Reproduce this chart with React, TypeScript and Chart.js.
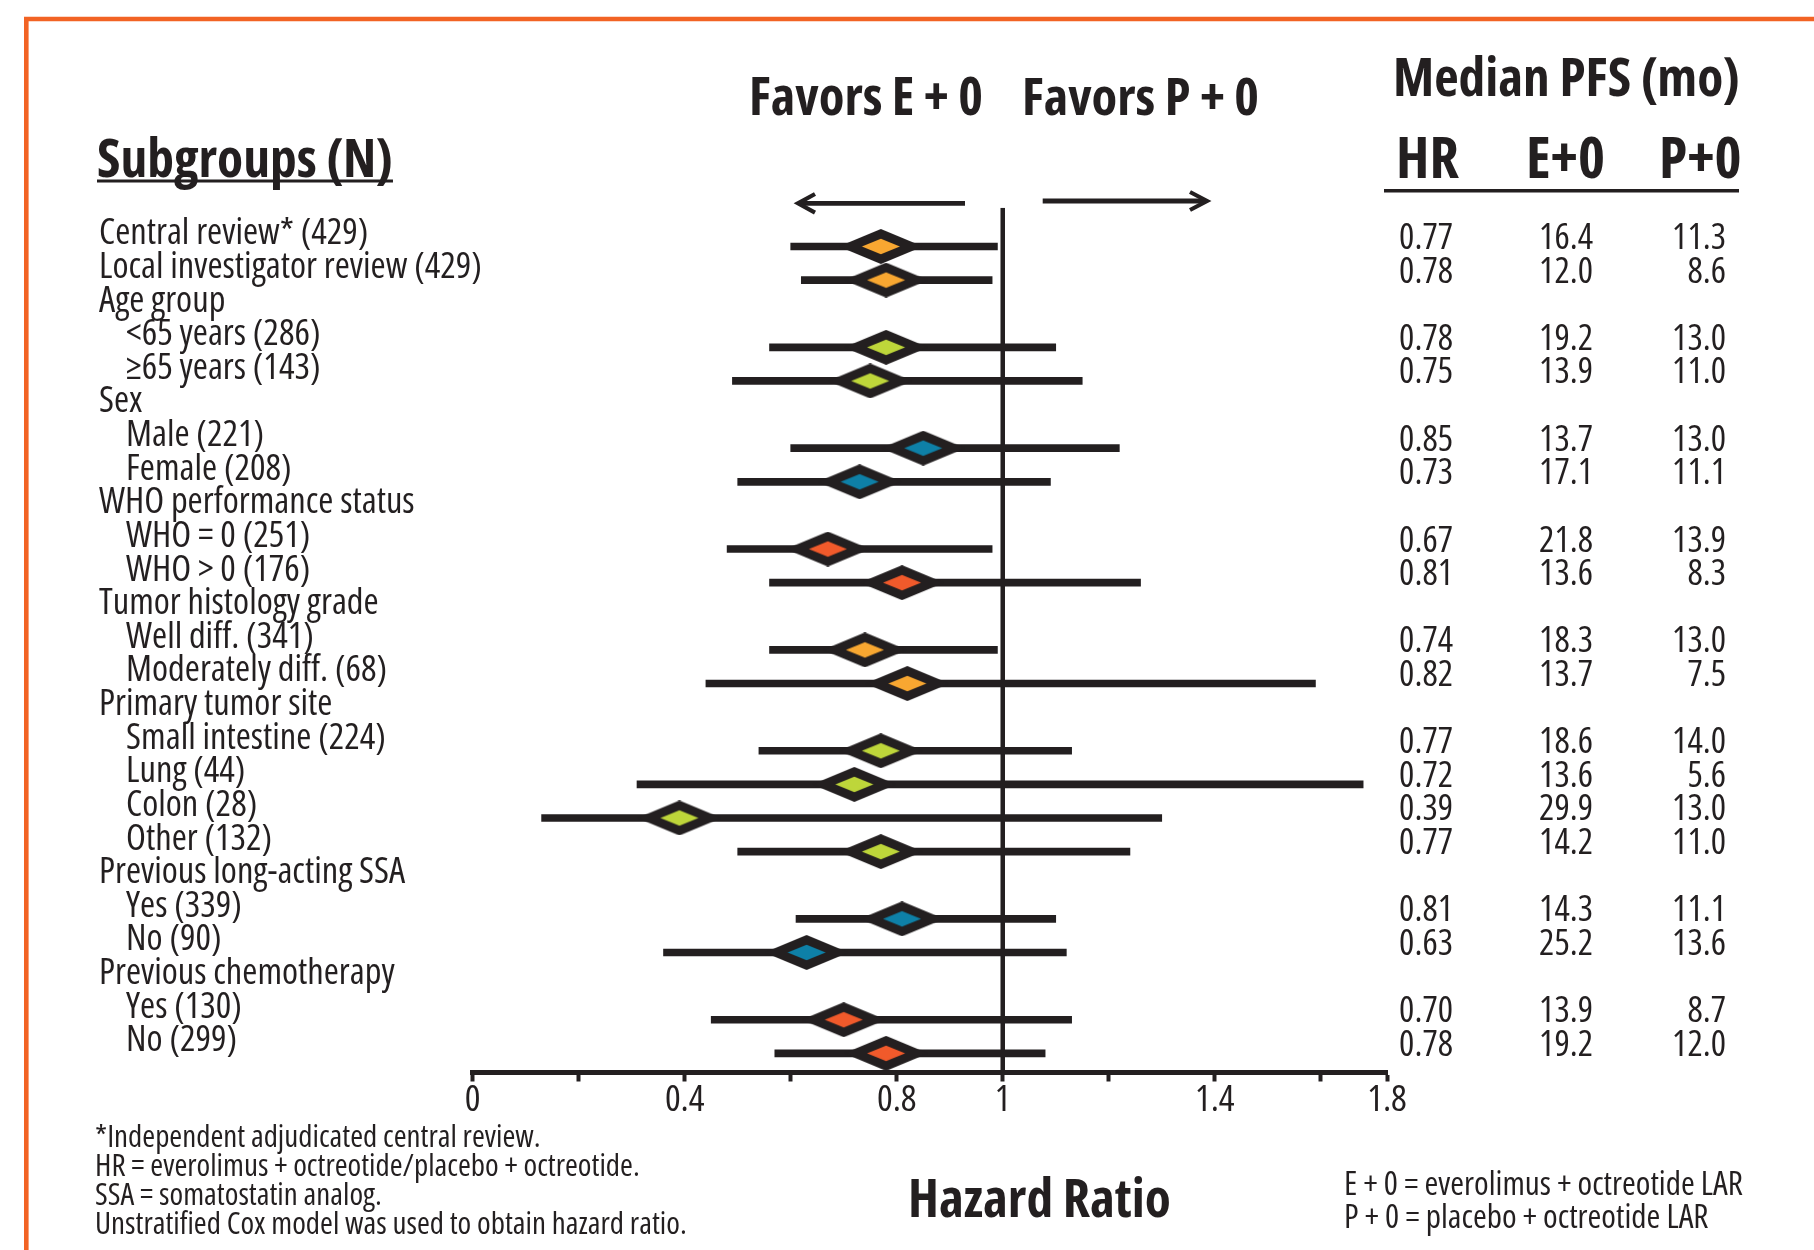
import React, { useEffect, useRef } from 'react';
import { Chart, registerables } from 'chart.js';

Chart.register(...registerables);

// ---------- data ----------
const rowLabels = [
  'Central review* (429)',
  'Local investigator review (429)',
  'Age group',
  '<65 years (286)',
  '≥65 years (143)',
  'Sex',
  'Male (221)',
  'Female (208)',
  'WHO performance status',
  'WHO = 0 (251)',
  'WHO > 0 (176)',
  'Tumor histology grade',
  'Well diff. (341)',
  'Moderately diff. (68)',
  'Primary tumor site',
  'Small intestine (224)',
  'Lung (44)',
  'Colon (28)',
  'Other (132)',
  'Previous long-acting SSA',
  'Yes (339)',
  'No (90)',
  'Previous chemotherapy',
  'Yes (130)',
  'No (299)',
];
const rowIsSubItem = [0, 0, 0, 1, 1, 0, 1, 1, 0, 1, 1, 0, 1, 1, 0, 1, 1, 1, 1, 0, 1, 1, 0, 1, 1];

const subgroupRows = [0, 1, 3, 4, 6, 7, 9, 10, 12, 13, 15, 16, 17, 18, 20, 21, 23, 24];
const hazardRatios = [0.77, 0.78, 0.78, 0.75, 0.85, 0.73, 0.67, 0.81, 0.74, 0.82, 0.77, 0.72, 0.39, 0.77, 0.81, 0.63, 0.7, 0.78];
const hrLabels = ['0.77', '0.78', '0.78', '0.75', '0.85', '0.73', '0.67', '0.81', '0.74', '0.82', '0.77', '0.72', '0.39', '0.77', '0.81', '0.63', '0.70', '0.78'];
const ciLower = [0.6, 0.62, 0.56, 0.49, 0.6, 0.5, 0.48, 0.56, 0.56, 0.44, 0.54, 0.31, 0.13, 0.5, 0.61, 0.36, 0.45, 0.57];
const ciUpper = [0.99, 0.98, 1.1, 1.15, 1.22, 1.09, 0.98, 1.26, 0.99, 1.59, 1.13, 1.68, 1.3, 1.24, 1.1, 1.12, 1.13, 1.08];
const medianPfsE = ['16.4', '12.0', '19.2', '13.9', '13.7', '17.1', '21.8', '13.6', '18.3', '13.7', '18.6', '13.6', '29.9', '14.2', '14.3', '25.2', '13.9', '19.2'];
const medianPfsP = ['11.3', '8.6', '13.0', '11.0', '13.0', '11.1', '13.9', '8.3', '13.0', '7.5', '14.0', '5.6', '13.0', '11.0', '11.1', '13.6', '8.7', '12.0'];
const markerGroup = ['orange', 'orange', 'lime', 'lime', 'blue', 'blue', 'red', 'red', 'orange', 'orange', 'lime', 'lime', 'lime', 'lime', 'blue', 'blue', 'red', 'red'];

const xTickValues = [0, 0.2, 0.4, 0.6, 0.8, 1, 1.2, 1.4, 1.6, 1.725];
const xTickLabels = ['0', '', '0.4', '', '0.8', '1', '', '1.4', '', '1.8'];

const footnotes = [
  '*Independent adjudicated central review.',
  'HR = everolimus + octreotide/placebo + octreotide.',
  'SSA = somatostatin analog.',
  'Unstratified Cox model was used to obtain hazard ratio.',
];
const legendLines = ['E + 0 = everolimus + octreotide LAR', 'P + 0 = placebo + octreotide LAR'];

// ---------- styles ----------
const INK = '#231F20';
const FRAME = '#F26324';
const MARKER_COLORS: Record<string, string> = {
  orange: '#F8A731',
  lime: '#BED63A',
  blue: '#0E80A7',
  red: '#F15A2B',
};
const FAMILY = "'Open Sans', 'Roboto Condensed', sans-serif";
const W = 1814;
const H = 1250;
const Y_MIN = -1.15;
const Y_MAX = 24.57;
const LABEL_LEFT = 99;
const Y_AXIS_WIDTH = 373.7;

function fontStr(weight: string, size: number) {
  return `${weight} condensed ${size}px ${FAMILY}`;
}

function fitSize(ctx: CanvasRenderingContext2D, text: string, weight: string, target: number) {
  const base = 50;
  ctx.font = fontStr(weight, base);
  const w = ctx.measureText(text).width;
  return (base * target) / w;
}

function diamondImage(fill: string): HTMLCanvasElement {
  const c = document.createElement('canvas');
  const w = 84;
  const h = 35;
  c.width = w;
  c.height = h;
  const g = c.getContext('2d')!;
  const cx = w / 2;
  const cy = h / 2;
  g.fillStyle = INK;
  g.beginPath();
  g.moveTo(cx, 0);
  g.lineTo(w, cy);
  g.lineTo(cx, h);
  g.lineTo(0, cy);
  g.closePath();
  g.fill();
  g.fillStyle = fill;
  g.beginPath();
  g.moveTo(cx, cy - 7.8);
  g.lineTo(cx + 19, cy);
  g.lineTo(cx, cy + 7.8);
  g.lineTo(cx - 19, cy);
  g.closePath();
  g.fill();
  return c;
}

const decorPlugin = {
  id: 'decor',
  beforeDraw(chart: any) {
    const ctx = chart.ctx as CanvasRenderingContext2D;
    ctx.save();
    ctx.fillStyle = '#ffffff';
    ctx.fillRect(0, 0, W, H);
    ctx.strokeStyle = FRAME;
    ctx.lineWidth = 4.6;
    ctx.beginPath();
    ctx.moveTo(26.3, H + 10);
    ctx.lineTo(26.3, 19);
    ctx.lineTo(W + 10, 19);
    ctx.stroke();
    ctx.restore();
  },
  afterDraw(chart: any) {
    const ctx = chart.ctx as CanvasRenderingContext2D;
    const yScale = chart.scales.y;
    ctx.save();
    ctx.fillStyle = INK;
    ctx.strokeStyle = INK;
    ctx.textBaseline = 'alphabetic';
    ctx.textAlign = 'left';

    const put = (text: string, weight: string, size: number, x: number, y: number) => {
      ctx.font = fontStr(weight, size);
      ctx.fillText(text, x, y);
      return ctx.measureText(text).width;
    };

    // headers
    const sw = put('Subgroups (N)', 'bold', fitSize(ctx, 'Subgroups (N)', 'bold', 296), 97, 176.7);
    ctx.fillRect(97, 179.5, sw, 3);

    put('Favors E + 0', 'bold', fitSize(ctx, 'Favors E + 0', 'bold', 234), 749, 115);
    put('Favors P + 0', 'bold', fitSize(ctx, 'Favors P + 0', 'bold', 237), 1022, 115);

    put('Median PFS (mo)', 'bold', fitSize(ctx, 'Median PFS (mo)', 'bold', 347), 1393, 96);
    const colSize = fitSize(ctx, 'E+0', 'bold', 79);
    put('HR', 'bold', colSize, 1396, 178);
    put('E+0', 'bold', colSize, 1526, 178);
    put('P+0', 'bold', colSize, 1659, 178);
    ctx.fillRect(1384, 189, 355, 3.5);

    // arrows
    ctx.lineCap = 'butt';
    ctx.lineJoin = 'miter';
    ctx.lineWidth = 4.8;
    ctx.beginPath();
    ctx.moveTo(799, 203.3);
    ctx.lineTo(965, 203.3);
    ctx.stroke();
    ctx.lineWidth = 4.2;
    ctx.beginPath();
    ctx.moveTo(815, 194);
    ctx.lineTo(798, 203.3);
    ctx.lineTo(815, 212.6);
    ctx.stroke();
    ctx.lineWidth = 4.8;
    ctx.beginPath();
    ctx.moveTo(1042.7, 201);
    ctx.lineTo(1206, 201);
    ctx.stroke();
    ctx.lineWidth = 4.2;
    ctx.beginPath();
    ctx.moveTo(1190, 192);
    ctx.lineTo(1207, 201);
    ctx.lineTo(1190, 210);
    ctx.stroke();

    // table of HR and medians, aligned to the forest rows
    ctx.font = fontStr('normal', 36);
    ctx.textAlign = 'right';
    subgroupRows.forEach((row, i) => {
      const y = yScale.getPixelForValue(row) + 2.5;
      ctx.fillText(hrLabels[i], 1453, y);
      ctx.fillText(medianPfsE[i], 1593, y);
      ctx.fillText(medianPfsP[i], 1726, y);
    });

    // axis title
    ctx.textAlign = 'left';
    put('Hazard Ratio', 'bold', fitSize(ctx, 'Hazard Ratio', 'bold', 263), 908, 1216.7);

    // footnotes
    const fnSize = fitSize(ctx, footnotes[3], 'normal', 592);
    footnotes.forEach((t, i) => put(t, 'normal', fnSize, 95, 1147 + i * 28.9));
    const lgSize = fitSize(ctx, legendLines[0], 'normal', 399);
    legendLines.forEach((t, i) => put(t, 'normal', lgSize, 1344, 1195 + i * 33));

    ctx.restore();
  },
};

export default function App() {
  const ref = useRef<HTMLCanvasElement | null>(null);

  useEffect(() => {
    if (!ref.current) return;
    const images: Record<string, HTMLCanvasElement> = {};
    Object.keys(MARKER_COLORS).forEach((k) => (images[k] = diamondImage(MARKER_COLORS[k])));

    const chart = new Chart(ref.current, {
      type: 'bar',
      data: {
        datasets: [
          {
            type: 'scatter',
            label: 'HR',
            data: subgroupRows.map((row, i) => ({ x: hazardRatios[i], y: row })),
            pointStyle: markerGroup.map((g) => images[g]) as any,
            pointRadius: 17,
            clip: false as any,
            order: 0,
          } as any,
          {
            type: 'bar',
            label: '95% CI',
            indexAxis: 'y',
            data: subgroupRows.map((row, i) => ({ x: [ciLower[i], ciUpper[i]], y: row })),
            backgroundColor: INK,
            borderWidth: 0,
            barThickness: 7,
            order: 1,
          } as any,
          {
            type: 'line',
            label: 'HR = 1',
            data: [
              { x: 1, y: Y_MIN },
              { x: 1, y: Y_MAX },
            ],
            borderColor: INK,
            borderWidth: 4.5,
            pointRadius: 0,
            order: 2,
          } as any,
        ],
      },
      options: {
        animation: false,
        responsive: false,
        events: [],
        layout: { padding: { left: LABEL_LEFT, right: 427, top: 207.8, bottom: 117.5 } },
        plugins: { legend: { display: false }, tooltip: { enabled: false }, title: { display: false } },
        scales: {
          x: {
            type: 'linear',
            position: 'bottom',
            offset: false,
            min: 0,
            max: 1.725,
            afterBuildTicks: (scale: any) => {
              scale.ticks = xTickValues.map((v) => ({ value: v }));
            },
            afterFit: (scale: any) => {
              scale.height = 60;
            },
            ticks: {
              autoSkip: false,
              maxRotation: 0,
              padding: 0,
              color: INK,
              font: { family: FAMILY, size: 37, weight: '400 condensed', lineHeight: 1 },
              callback: (_v: any, i: number) => xTickLabels[i],
            },
            grid: {
              display: true,
              offset: false,
              drawOnChartArea: false,
              drawTicks: true,
              tickLength: 9,
              tickWidth: 4,
              tickColor: INK,
              color: INK,
            },
            border: { display: true, color: INK, width: 5 },
          },
          y: {
            type: 'linear',
            position: 'left',
            reverse: true,
            offset: false,
            min: Y_MIN,
            max: Y_MAX,
            afterBuildTicks: (scale: any) => {
              scale.ticks = rowLabels.map((_, i) => ({ value: i }));
            },
            afterFit: (scale: any) => {
              scale.width = Y_AXIS_WIDTH;
            },
            ticks: {
              autoSkip: false,
              mirror: true,
              crossAlign: 'near',
              labelOffset: -12.5,
              padding: -Y_AXIS_WIDTH,
              color: INK,
              font: { family: FAMILY, size: 36.5, weight: '400 condensed', lineHeight: 1 },
              callback: (v: any) => (rowIsSubItem[v] ? '    ' : '') + rowLabels[v],
            },
            grid: { display: false, drawTicks: false, offset: false },
            border: { display: false },
          },
        },
      } as any,
      plugins: [decorPlugin],
    });
    return () => chart.destroy();
  }, []);

  return (
    <div style={{ position: 'absolute', left: 0, top: 0, width: W, height: H }}>
      <canvas ref={ref} width={W} height={H} style={{ display: 'block' }} />
    </div>
  );
}
